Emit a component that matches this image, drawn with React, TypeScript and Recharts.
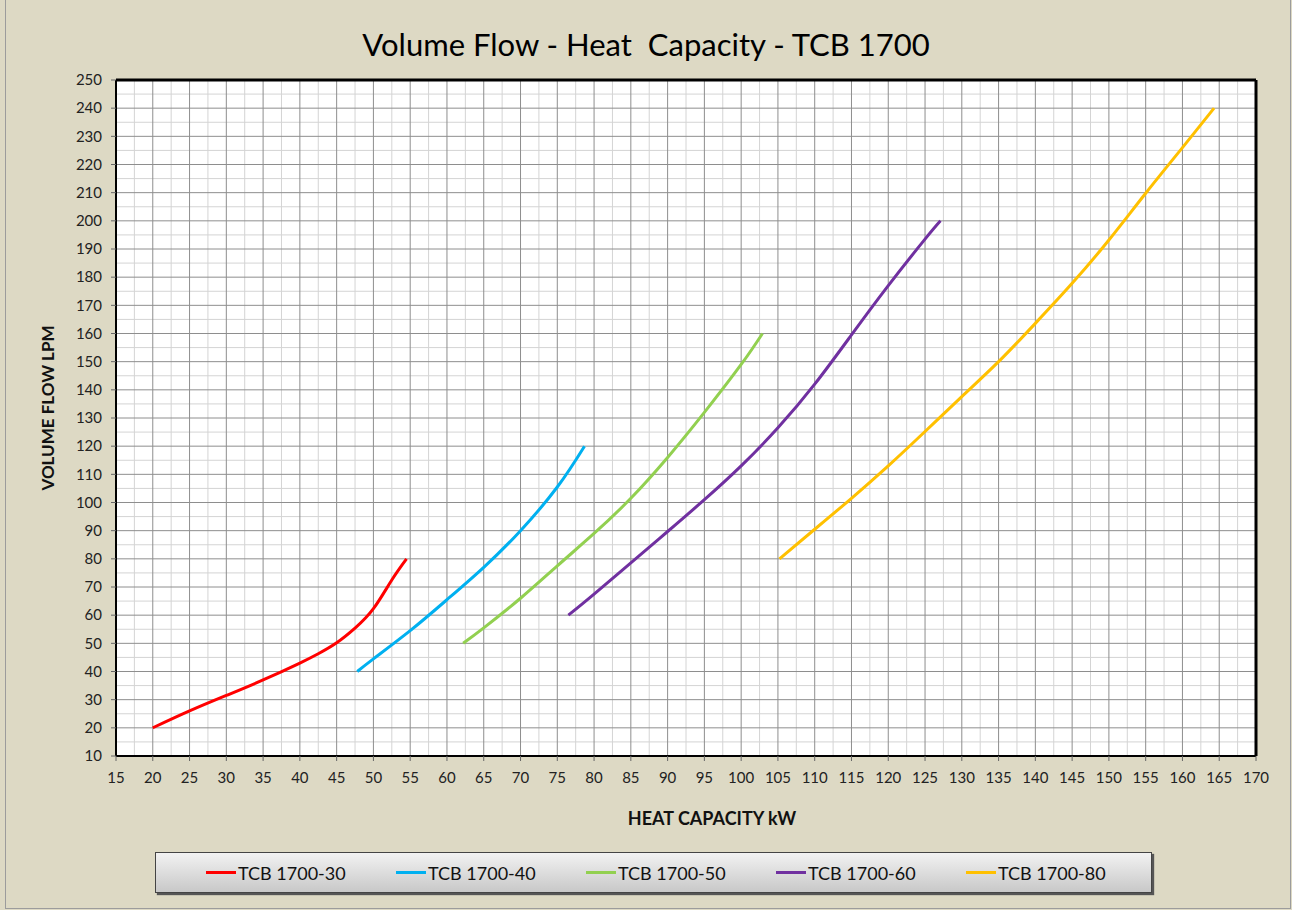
import { LineChart, Line, XAxis, YAxis, CartesianGrid, ReferenceLine } from 'recharts';

// axis ticks
const xTicks = [15, 20, 25, 30, 35, 40, 45, 50, 55, 60, 65, 70, 75, 80, 85, 90, 95, 100, 105, 110, 115, 120, 125, 130, 135, 140, 145, 150, 155, 160, 165, 170];
const yTicks = [10, 20, 30, 40, 50, 60, 70, 80, 90, 100, 110, 120, 130, 140, 150, 160, 170, 180, 190, 200, 210, 220, 230, 240, 250];
// minor grid lines
const xMinor = [17.5, 22.5, 27.5, 32.5, 37.5, 42.5, 47.5, 52.5, 57.5, 62.5, 67.5, 72.5, 77.5, 82.5, 87.5, 92.5, 97.5, 102.5, 107.5, 112.5, 117.5, 122.5, 127.5, 132.5, 137.5, 142.5, 147.5, 152.5, 157.5, 162.5, 167.5];
const yMinor = [15, 25, 35, 45, 55, 65, 75, 85, 95, 105, 115, 125, 135, 145, 155, 165, 175, 185, 195, 205, 215, 225, 235, 245];

// heat capacity kW (x) vs volume flow LPM (y)
const tcb30 = [
  { x: 20, y: 20 }, { x: 25, y: 26 }, { x: 30, y: 31.5 }, { x: 35, y: 37 },
  { x: 40, y: 43 }, { x: 42.5, y: 46.3 }, { x: 45, y: 50.2 }, { x: 47.5, y: 55.4 },
  { x: 50, y: 62.3 }, { x: 52.5, y: 72.5 }, { x: 54.5, y: 80 },
];
const tcb40 = [
  { x: 47.8, y: 40 }, { x: 50, y: 44.5 }, { x: 55, y: 54.5 }, { x: 60, y: 65.5 },
  { x: 65, y: 77 }, { x: 70, y: 90 }, { x: 75, y: 105.5 }, { x: 78.7, y: 120 },
];
const tcb50 = [
  { x: 62.2, y: 50 }, { x: 65, y: 55.5 }, { x: 70, y: 66 }, { x: 75, y: 77.5 },
  { x: 80, y: 89 }, { x: 85, y: 101.5 }, { x: 90, y: 116 }, { x: 95, y: 132 },
  { x: 100, y: 149 }, { x: 102.9, y: 160 },
];
const tcb60 = [
  { x: 76.5, y: 60 }, { x: 80, y: 67.5 }, { x: 85, y: 78.6 }, { x: 90, y: 89.7 },
  { x: 95, y: 101 }, { x: 100, y: 113 }, { x: 105, y: 126.5 }, { x: 110, y: 142 },
  { x: 115, y: 159.5 }, { x: 120, y: 177 }, { x: 125, y: 193.5 }, { x: 127.1, y: 200 },
];
const tcb80 = [
  { x: 105.2, y: 80 }, { x: 110, y: 90.5 }, { x: 115, y: 101.5 }, { x: 120, y: 113 },
  { x: 125, y: 125.2 }, { x: 130, y: 137.6 }, { x: 135, y: 150 }, { x: 140, y: 163.6 },
  { x: 145, y: 177.8 }, { x: 150, y: 193.2 }, { x: 155, y: 209.8 }, { x: 160, y: 226 },
  { x: 164.3, y: 240 },
];

const seriesNames = ['TCB 1700-30', 'TCB 1700-40', 'TCB 1700-50', 'TCB 1700-60', 'TCB 1700-80'];
const seriesData = [tcb30, tcb40, tcb50, tcb60, tcb80];
const colors = ['#FF0000', '#00B0F0', '#92D050', '#7030A0', '#FFC000'];

const font = 'Lato, "Noto Sans", sans-serif';

const App = () => {
  return (
    <div
      style={{
        position: 'absolute',
        left: 0,
        top: 0,
        width: 1292,
        height: 910,
        background: '#DDD9C4',
        fontFamily: font,
        overflow: 'hidden',
      }}
    >
      {/* outer frame */}
      <div style={{ position: 'absolute', left: 5, top: -2, width: 1284, height: 909, border: '1px solid #9c9c9c' }} />

      <div style={{ position: 'absolute', left: 0, top: 25, width: 1292, textAlign: 'center', fontSize: 31, color: '#000' }}>
        Volume Flow - Heat&nbsp; Capacity - TCB 1700
      </div>

      <div style={{ position: 'absolute', left: 0, top: 0 }}>
        <LineChart width={1292} height={910} margin={{ top: 80, right: 36, left: 56, bottom: 124 }}>
          <CartesianGrid fill="#fff" stroke="#d4d4d4" horizontalValues={yMinor} verticalValues={xMinor} />
          <CartesianGrid fill="none" stroke="#8e8e8e" horizontalValues={yTicks} verticalValues={xTicks} />
          <XAxis
            type="number"
            dataKey="x"
            domain={[15, 170]}
            ticks={xTicks}
            interval={0}
            allowDataOverflow
            height={30}
            stroke="#000"
            strokeWidth={2}
            tickSize={5}
            tickMargin={11}
            tick={{ fill: '#222', fontSize: 15, fontFamily: font }}
            tickLine={{ stroke: '#666', strokeWidth: 1 }}
          />
          <YAxis
            type="number"
            dataKey="y"
            domain={[10, 250]}
            ticks={yTicks}
            interval={0}
            allowDataOverflow
            width={60}
            stroke="#000"
            strokeWidth={2}
            tickSize={5}
            tickMargin={9}
            tick={{ fill: '#222', fontSize: 15, fontFamily: font }}
            tickLine={{ stroke: '#666', strokeWidth: 1 }}
          />
          <ReferenceLine y={250} stroke="#000" strokeWidth={3} />
          <ReferenceLine x={170} stroke="#000" strokeWidth={3} />
          {seriesData.map((d, i) => (
            <Line
              key={seriesNames[i]}
              data={d}
              dataKey="y"
              name={seriesNames[i]}
              type="natural"
              stroke={colors[i]}
              strokeWidth={3}
              dot={false}
              activeDot={false}
              isAnimationActive={false}
            />
          ))}
        </LineChart>
      </div>

      {/* axis titles */}
      <div
        style={{
          position: 'absolute',
          left: 612,
          top: 807,
          width: 200,
          textAlign: 'center',
          fontSize: 18,
          fontWeight: 700,
          color: '#111',
        }}
      >
        HEAT CAPACITY kW
      </div>
      <div
        style={{
          position: 'absolute',
          left: 48 - 100,
          top: 408 - 12,
          width: 200,
          height: 24,
          lineHeight: '24px',
          textAlign: 'center',
          fontSize: 17,
          fontWeight: 700,
          color: '#111',
          transform: 'rotate(-90deg)',
        }}
      >
        VOLUME FLOW LPM
      </div>

      {/* legend */}
      <div
        style={{
          position: 'absolute',
          left: 155,
          top: 852,
          width: 995,
          height: 39,
          border: '1px solid #444',
          boxShadow: '2px 2px 1px #555',
          background: 'linear-gradient(#f2f2f2, #c8c8c8)',
        }}
      >
        {seriesNames.map((n, i) => (
          <div
            key={n}
            style={{ position: 'absolute', left: 50 + i * 190, top: 0, height: 39, display: 'flex', alignItems: 'center' }}
          >
            <div style={{ width: 30, height: 3, background: colors[i], marginRight: 2 }} />
            <span style={{ fontSize: 18, color: '#111' }}>{n}</span>
          </div>
        ))}
      </div>
    </div>
  );
};

export default App;
